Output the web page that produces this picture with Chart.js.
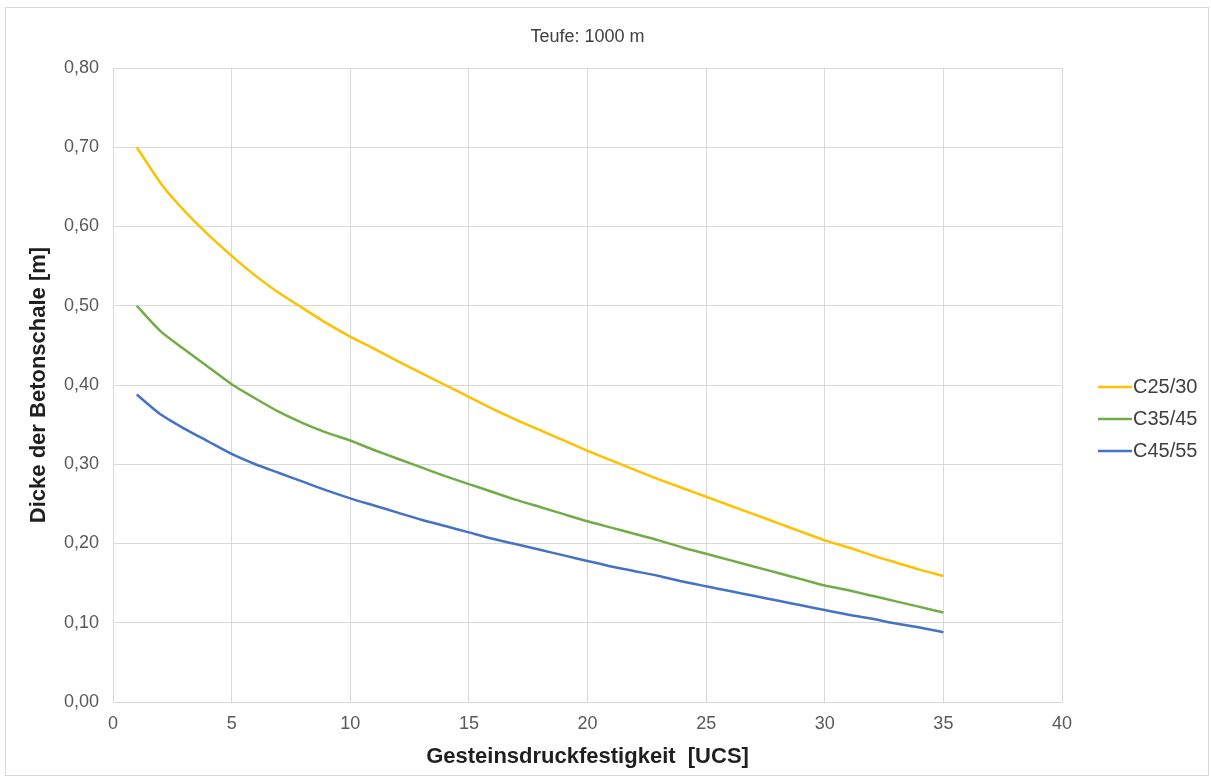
<!DOCTYPE html>
<html>
<head>
<meta charset="utf-8">
<script src="https://cdn.jsdelivr.net/npm/chart.js@4"></script>
<style>
  body { margin: 0; background: #fff; }
  #frame { position: absolute; left: 5px; top: 7px; width: 1202px; height: 767px; border: 1px solid #d9d9d9; }
  #wrap { position: absolute; left: 0; top: 0; width: 1211px; height: 780px; }
</style>
</head>
<body>
<div id="frame"></div>
<div id="wrap"><canvas id="chart" width="1211" height="780"></canvas></div>
<script>
// Gesteinsdruckfestigkeit (UCS), 1..35
const ucs = [1,2,3,4,5,6,7,8,9,10,11,12,13,14,15,16,17,18,19,20,21,22,23,24,25,26,27,28,29,30,31,32,33,34,35];

// Dicke der Betonschale [m]
const c2530 = [0.700,0.655,0.620,0.590,0.563,0.538,0.516,0.497,0.478,0.461,0.446,0.430,0.415,0.400,0.385,0.370,0.356,0.343,0.330,0.317,
               0.305,0.293,0.281,0.270,0.259,0.248,0.237,0.226,0.215,0.204,0.195,0.185,0.176,0.167,0.159];
const c3545 = [0.500,0.468,0.445,0.423,0.401,0.383,0.366,0.352,0.340,0.330,0.318,0.307,0.296,0.285,0.275,0.265,0.255,0.246,0.237,0.228,
               0.220,0.212,0.204,0.195,0.187,0.179,0.171,0.163,0.155,0.147,0.141,0.134,0.127,0.120,0.113];
const c4555 = [0.388,0.363,0.345,0.329,0.313,0.300,0.289,0.278,0.267,0.257,0.248,0.239,0.230,0.222,0.214,0.206,0.199,0.192,0.185,0.178,
               0.171,0.165,0.159,0.152,0.146,0.140,0.134,0.128,0.122,0.116,0.110,0.105,0.099,0.094,0.088];

const seriesNames = ['C25/30', 'C35/45', 'C45/55'];
const xTicks = [0,5,10,15,20,25,30,35,40];
const yTicks = [0,0.1,0.2,0.3,0.4,0.5,0.6,0.7,0.8];
const chartTitle = 'Teufe: 1000 m';

const colors = ['#FFC000', '#70AD47', '#4472C4'];
const font = 'Liberation Sans, Arial, sans-serif';

function pts(vals) { return vals.map((v, i) => ({ x: ucs[i], y: v })); }

// titel ueber der plotflaeche zentriert, legende rechts daneben
const decor = {
  id: 'decor',
  afterDraw(chart) {
    const ctx = chart.ctx, a = chart.chartArea;
    ctx.save();
    ctx.textBaseline = 'middle';
    ctx.fillStyle = '#404040';
    ctx.font = '18px ' + font;
    ctx.textAlign = 'center';
    ctx.fillText(chartTitle, (a.left + a.right) / 2, 37);

    ctx.font = '20px ' + font;
    ctx.textAlign = 'left';
    chart.data.datasets.forEach((ds, i) => {
      const y = 387 + i * 32;
      ctx.strokeStyle = ds.borderColor;
      ctx.lineWidth = 2.5;
      ctx.beginPath();
      ctx.moveTo(a.right + 36, y);
      ctx.lineTo(a.right + 70, y);
      ctx.stroke();
      ctx.fillStyle = '#404040';
      ctx.fillText(ds.label, a.right + 71, y);
    });
    ctx.restore();
  }
};

new Chart(document.getElementById('chart'), {
  type: 'line',
  data: {
    datasets: [c2530, c3545, c4555].map((d, i) => ({
      label: seriesNames[i],
      data: pts(d),
      borderColor: colors[i],
      backgroundColor: colors[i],
      borderWidth: 2.5,
      pointRadius: 0,
      tension: 0.2,
      fill: false
    }))
  },
  options: {
    responsive: false,
    animation: false,
    layout: { padding: { left: 28, right: 149, top: 68, bottom: 12 } },
    plugins: {
      legend: { display: false },
      tooltip: { enabled: false },
      title: { display: false }
    },
    scales: {
      x: {
        type: 'linear',
        min: 0, max: 40,
        afterBuildTicks: s => { s.ticks = xTicks.map(v => ({ value: v })); },
        ticks: { color: '#595959', font: { family: font, size: 18, lineHeight: 1 }, padding: 13 },
        grid: { color: '#d9d9d9', drawTicks: false },
        border: { color: '#d9d9d9' },
        title: {
          display: true,
          text: 'Gesteinsdruckfestigkeit  [UCS]',
          color: '#1f1f1f',
          font: { family: font, size: 22, weight: 'bold', lineHeight: 1 },
          padding: { top: 0, bottom: 0 }
        }
      },
      y: {
        min: 0, max: 0.8,
        afterBuildTicks: s => { s.ticks = yTicks.map(v => ({ value: v })); },
        ticks: {
          color: '#595959',
          font: { family: font, size: 18 },
          padding: 14,
          callback: v => v.toFixed(2).replace('.', ',')
        },
        grid: { color: '#d9d9d9', drawTicks: false },
        border: { color: '#d9d9d9' },
        title: {
          display: true,
          text: 'Dicke der Betonschale [m]',
          color: '#1f1f1f',
          font: { family: font, size: 22, weight: 'bold', lineHeight: 1 },
          padding: { top: 0, bottom: 0 }
        }
      }
    }
  },
  plugins: [decor]
});
</script>
</body>
</html>
